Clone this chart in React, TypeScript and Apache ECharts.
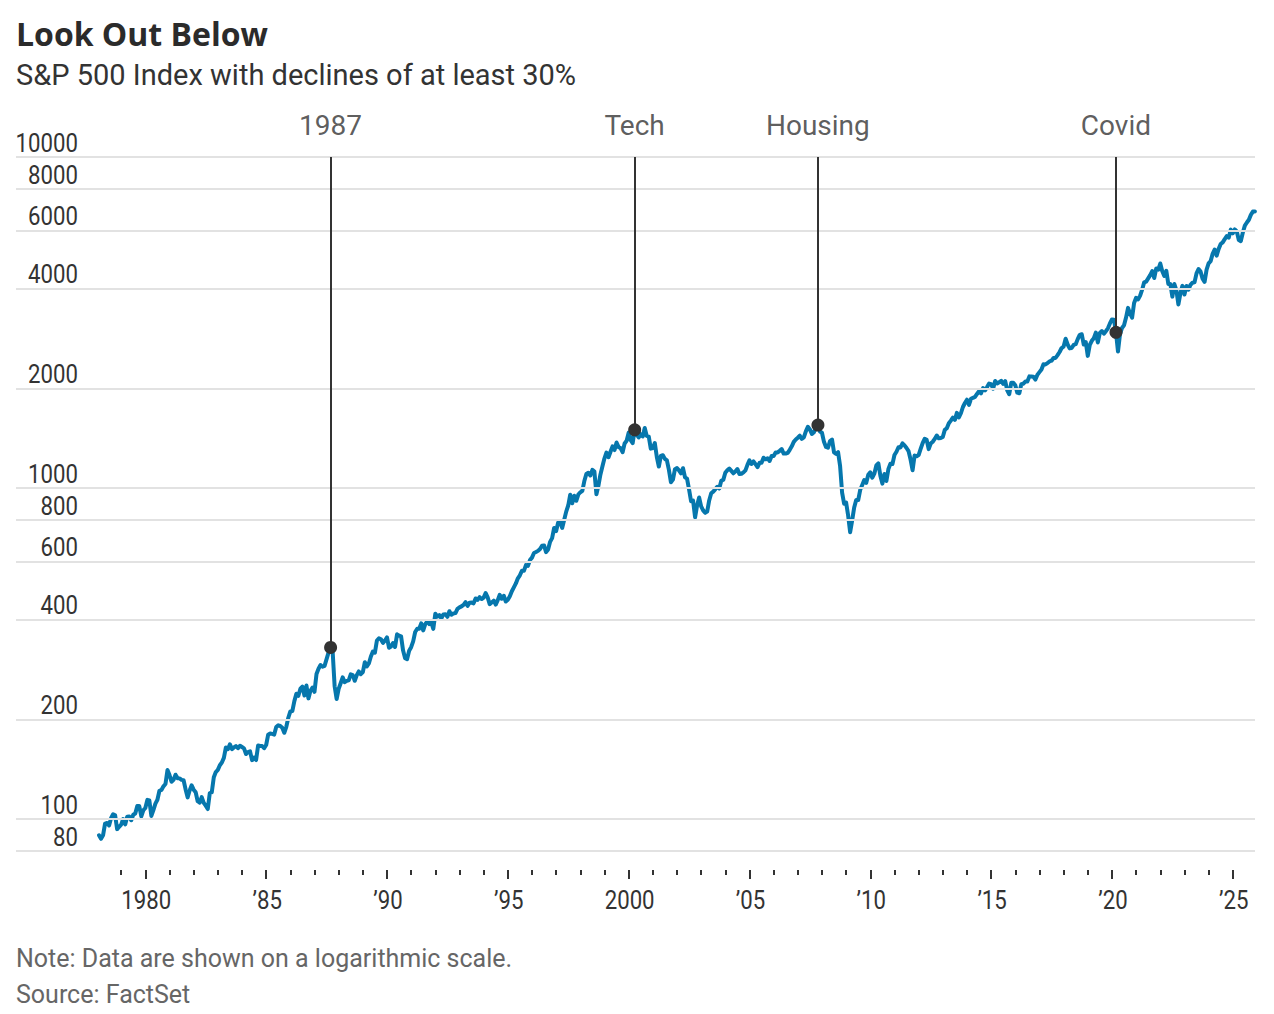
import React, { useEffect, useRef } from 'react';
import * as echarts from 'echarts';

// Monthly closes of the S&P 500 (month-end), starting January 1978
const START_YEAR = 1978;

const CLOSE_1978_1989 = [
  89.25, 87.04, 89.21, 96.83, 97.24, 95.53, 100.68, 103.29, 102.54, 93.15, 94.7, 96.11,
  99.93, 96.28, 101.59, 101.76, 99.08, 102.91, 103.81, 109.32, 109.32, 101.82, 106.16, 107.94,
  114.16, 113.66, 102.09, 106.29, 111.24, 114.24, 121.67, 122.38, 125.46, 127.47, 140.52, 135.76,
  129.55, 131.27, 136.0, 132.81, 132.59, 131.21, 130.92, 122.79, 116.18, 121.89, 126.35, 122.55,
  120.4, 113.11, 111.96, 116.44, 111.88, 109.61, 107.09, 119.51, 120.42, 133.71, 138.54, 140.64,
  145.3, 148.06, 152.96, 164.42, 162.39, 168.11, 162.56, 164.4, 166.07, 163.55, 166.4, 164.93,
  163.41, 157.06, 159.18, 160.05, 150.55, 153.18, 150.66, 166.68, 166.1, 166.09, 163.58, 167.24,
  179.63, 181.18, 180.66, 179.83, 189.55, 191.85, 190.92, 188.63, 182.08, 189.82, 202.17, 211.28,
  211.78, 226.92, 238.9, 235.52, 247.35, 250.84, 236.12, 252.93, 231.32, 243.98, 249.22, 242.17,
  274.08, 284.2, 291.7, 288.36, 290.1, 304.0, 318.66, 329.8, 321.83, 251.79, 230.3, 247.08,
  257.07, 267.82, 258.89, 261.33, 262.16, 273.5, 272.02, 261.52, 271.91, 278.97, 273.7, 277.72,
  297.47, 288.86, 294.87, 309.64, 320.52, 317.98, 346.08, 351.45, 349.15, 340.36, 345.99, 353.4,
];

const CLOSE_1990_1999 = [
  329.08, 331.89, 339.94, 330.8, 361.23, 358.02, 356.15, 322.56, 306.05, 304.0, 322.22, 330.22,
  343.93, 367.07, 375.22, 375.35, 389.83, 371.16, 387.81, 395.43, 387.86, 392.46, 375.22, 417.09,
  408.79, 412.7, 403.69, 414.95, 415.35, 408.14, 424.21, 414.03, 417.8, 418.68, 431.35, 435.71,
  438.78, 443.38, 451.67, 440.19, 450.19, 450.53, 448.13, 463.56, 458.93, 467.83, 461.79, 466.45,
  481.61, 467.14, 445.77, 450.91, 456.5, 444.27, 458.26, 475.49, 462.69, 472.35, 453.69, 459.27,
  470.42, 487.39, 500.71, 514.71, 533.4, 544.75, 562.06, 561.88, 584.41, 581.5, 605.37, 615.93,
  636.02, 640.43, 645.5, 654.17, 669.12, 670.63, 639.95, 651.99, 687.31, 705.27, 757.02, 740.74,
  786.16, 790.82, 757.12, 801.34, 848.28, 885.14, 954.29, 899.47, 947.28, 914.62, 955.4, 970.43,
  980.28, 1049.34, 1101.75, 1111.75, 1090.82, 1133.84, 1120.67, 957.28, 1017.01, 1098.67, 1163.63, 1229.23,
  1279.64, 1238.33, 1286.37, 1335.18, 1301.84, 1372.71, 1328.72, 1320.41, 1282.71, 1362.93, 1388.91, 1469.25,
];

const CLOSE_2000_2009 = [
  1394.46, 1366.42, 1498.58, 1452.43, 1420.6, 1454.6, 1430.83, 1517.68, 1436.51, 1429.4, 1314.95, 1320.28,
  1366.01, 1239.94, 1160.33, 1249.46, 1255.82, 1224.42, 1211.23, 1133.58, 1040.94, 1059.78, 1139.45, 1148.08,
  1130.2, 1106.73, 1147.39, 1076.92, 1067.14, 989.82, 911.62, 916.07, 815.28, 885.76, 936.31, 879.82,
  855.7, 841.15, 848.18, 916.92, 963.59, 974.5, 990.31, 1008.01, 995.97, 1050.71, 1058.2, 1111.92,
  1131.13, 1144.94, 1126.21, 1107.3, 1120.68, 1140.84, 1101.72, 1104.24, 1114.58, 1130.2, 1173.82, 1211.92,
  1181.27, 1203.6, 1180.59, 1156.85, 1191.5, 1191.33, 1234.18, 1220.33, 1228.81, 1207.01, 1249.48, 1248.29,
  1280.08, 1280.66, 1294.83, 1310.61, 1270.09, 1270.2, 1276.66, 1303.82, 1335.85, 1377.94, 1400.63, 1418.3,
  1438.24, 1406.82, 1420.86, 1482.37, 1530.62, 1503.35, 1455.27, 1473.99, 1526.75, 1549.38, 1481.14, 1468.36,
  1378.55, 1330.63, 1322.7, 1385.59, 1400.38, 1280.0, 1267.38, 1282.83, 1166.36, 968.75, 896.24, 903.25,
  825.88, 735.09, 797.87, 872.81, 919.14, 919.32, 987.48, 1020.62, 1057.08, 1036.19, 1095.63, 1115.1,
];

const CLOSE_2010_2019 = [
  1073.87, 1104.49, 1169.43, 1186.69, 1089.41, 1030.71, 1101.6, 1049.33, 1141.2, 1183.26, 1180.55, 1257.64,
  1286.12, 1327.22, 1325.83, 1363.61, 1345.2, 1320.64, 1292.28, 1218.89, 1131.42, 1253.3, 1246.96, 1257.6,
  1312.41, 1365.68, 1408.47, 1397.91, 1310.33, 1362.16, 1379.32, 1406.58, 1440.67, 1412.16, 1416.18, 1426.19,
  1498.11, 1514.68, 1569.19, 1597.57, 1630.74, 1606.28, 1685.73, 1632.97, 1681.55, 1756.54, 1805.81, 1848.36,
  1782.59, 1859.45, 1872.34, 1883.95, 1923.57, 1960.23, 1930.67, 2003.37, 1972.29, 2018.05, 2067.56, 2058.9,
  1994.99, 2104.5, 2067.89, 2085.51, 2107.39, 2063.11, 2103.84, 1972.18, 1920.03, 2079.36, 2080.41, 2043.94,
  1940.24, 1932.23, 2059.74, 2065.3, 2096.95, 2098.86, 2173.6, 2170.95, 2168.27, 2126.15, 2198.81, 2238.83,
  2278.87, 2363.64, 2362.72, 2384.2, 2411.8, 2423.41, 2470.3, 2471.65, 2519.36, 2575.26, 2647.58, 2673.61,
  2823.81, 2713.83, 2640.87, 2648.05, 2705.27, 2718.37, 2816.29, 2901.52, 2913.98, 2711.74, 2760.17, 2506.85,
  2704.1, 2784.49, 2834.4, 2945.83, 2752.06, 2941.76, 2980.38, 2926.46, 2976.74, 3037.56, 3140.98, 3230.78,
];

const CLOSE_2020_2025 = [
  3225.52, 2954.22, 2584.59, 2912.43, 3044.31, 3100.29, 3271.12, 3500.31, 3363.0, 3269.96, 3621.63, 3756.07,
  3714.24, 3811.15, 3972.89, 4181.17, 4204.11, 4297.5, 4395.26, 4522.68, 4307.54, 4605.38, 4567.0, 4766.18,
  4515.55, 4373.94, 4530.41, 4131.93, 4132.15, 3785.38, 4130.29, 3955.0, 3585.62, 3871.98, 4080.11, 3839.5,
  4076.6, 3970.15, 4109.31, 4169.48, 4179.83, 4450.38, 4588.96, 4507.66, 4288.05, 4193.8, 4567.8, 4769.83,
  4845.65, 5096.27, 5254.35, 5035.69, 5277.51, 5460.48, 5522.3, 5648.4, 5762.48, 5705.45, 6032.38, 5881.63,
  6040.53, 5954.5, 5611.85, 5569.06, 5911.69, 6204.95, 6339.39, 6460.26, 6688.46, 6840.2, 6849.09,
];

// Decline annotations (peak month before each decline of 30%+)
const EVENT_LABELS = ['1987', 'Tech', 'Housing', 'Covid'];
const EVENT_DATES = [1987 + 8 / 12, 2000 + 3 / 12, 2007 + 10 / 12, 2020 + 2 / 12];
const EVENT_VALUES = [329.8, 1498.58, 1549.38, 2954.22];

// Axes
const Y_TICKS = [80, 100, 200, 400, 600, 800, 1000, 2000, 4000, 6000, 8000, 10000];
const MAJOR_YEARS = [1980, 1985, 1990, 1995, 2000, 2005, 2010, 2015, 2020, 2025];
const MAJOR_LABELS = ['1980', '\u201985', '\u201990', '\u201995', '2000', '\u201905', '\u201910', '\u201915', '\u201920', '\u201925'];
const FIRST_TICK_YEAR = 1979;
const LAST_TICK_YEAR = 2025;

const TITLE = 'Look Out Below';
const SUBTITLE = 'S&P 500 Index with declines of at least 30%';
const NOTE = 'Note: Data are shown on a logarithmic scale.';
const SOURCE = 'Source: FactSet';

export default function App() {
  const ref = useRef<HTMLDivElement>(null);

  useEffect(() => {
    if (!ref.current) return;
    const chart = echarts.init(ref.current, null, { renderer: 'svg' });

    const closes = [
      ...CLOSE_1978_1989,
      ...CLOSE_1990_1999,
      ...CLOSE_2000_2009,
      ...CLOSE_2010_2019,
      ...CLOSE_2020_2025,
    ];
    const lineData = closes.map((v, i) => [START_YEAR + (i + 1) / 12, v]);
    const minorYears: number[] = [];
    for (let y = FIRST_TICK_YEAR; y <= LAST_TICK_YEAR; y++) minorYears.push(y);

    const X_MIN = START_YEAR;
    const X_MAX = 2025.92;
    const textFont = 'Roboto, "Noto Sans", sans-serif';
    const dark = '#333333';
    const tickStyle = { color: dark, width: 2 };
    const NARROW = 0.855;

    const baseGraphic: any[] = [
      {
        type: 'text',
        x: 16,
        y: 33,
        style: { text: TITLE, font: 'bold 32px "Open Sans", Roboto, sans-serif', fill: '#2b2b2b', align: 'left', verticalAlign: 'middle' },
      },
      {
        type: 'text',
        x: 16,
        y: 75,
        style: { text: SUBTITLE, font: `29px ${textFont}`, fill: dark, align: 'left', verticalAlign: 'middle' },
      },
      {
        type: 'text',
        x: 16,
        y: 958,
        style: { text: NOTE, font: `25px ${textFont}`, fill: '#666666', align: 'left', verticalAlign: 'middle' },
      },
      {
        type: 'text',
        x: 16,
        y: 994,
        style: { text: SOURCE, font: `25px ${textFont}`, fill: '#666666', align: 'left', verticalAlign: 'middle' },
      },
    ];

    const option: any = {
      animation: false,
      backgroundColor: '#ffffff',
      grid: [
        { left: 16, right: 19, top: 157, bottom: 163, outerBoundsMode: 'none' },
        { left: 97, right: 19, top: 157, bottom: 163, outerBoundsMode: 'none' },
      ],
      xAxis: [
        { gridIndex: 0, type: 'value', min: 0, max: 1, show: false },
        {
          gridIndex: 1,
          type: 'value',
          min: X_MIN,
          max: X_MAX,
          position: 'bottom',
          offset: 19,
          axisLine: { show: false },
          splitLine: { show: false },
          axisTick: { show: true, customValues: minorYears, length: 5, lineStyle: tickStyle },
          axisLabel: { show: false },
        },
        {
          gridIndex: 1,
          type: 'value',
          min: X_MIN,
          max: X_MAX,
          position: 'bottom',
          offset: 19,
          axisLine: { show: false },
          splitLine: { show: false },
          axisTick: { show: true, customValues: MAJOR_YEARS, length: 9, lineStyle: tickStyle },
          axisLabel: { show: false },
        },
      ],
      yAxis: [
        { gridIndex: 0, type: 'log', logBase: 10, min: 80, max: 10000, show: false },
        { gridIndex: 1, type: 'log', logBase: 10, min: 80, max: 10000, show: false },
      ],
      graphic: baseGraphic,
      series: [
        {
          name: 'gridlines',
          type: 'scatter',
          xAxisIndex: 0,
          yAxisIndex: 0,
          clip: false,
          silent: true,
          symbolSize: 0.1,
          itemStyle: { color: 'rgba(0,0,0,0)' },
          data: Y_TICKS.map((v) => [0, v]),
          markLine: {
            silent: true,
            symbol: ['none', 'none'],
            label: { show: false },
            lineStyle: { color: '#e2e2e2', width: 2, type: 'solid' },
            emphasis: { disabled: true },
            data: Y_TICKS.map((v) => ({ yAxis: v })),
          },
          z: 1,
        },
        {
          name: 'S&P 500',
          type: 'line',
          xAxisIndex: 1,
          yAxisIndex: 1,
          showSymbol: false,
          symbol: 'none',
          silent: true,
          data: lineData,
          lineStyle: { color: '#0677ad', width: 4, join: 'round', cap: 'round' },
          z: 3,
        },
        {
          name: 'events',
          type: 'scatter',
          xAxisIndex: 1,
          yAxisIndex: 1,
          clip: false,
          silent: true,
          symbolSize: 13,
          itemStyle: { color: dark, opacity: 1 },
          data: EVENT_DATES.map((d, i) => [d, EVENT_VALUES[i]]),
          markLine: {
            silent: true,
            symbol: ['none', 'none'],
            label: { show: false },
            lineStyle: { color: dark, width: 2, type: 'solid' },
            emphasis: { disabled: true },
            data: EVENT_DATES.map((d, i) => [{ coord: [d, 10000] }, { coord: [d, EVENT_VALUES[i]] }]),
          },
          z: 5,
        },
        {
          name: 'event labels',
          type: 'scatter',
          xAxisIndex: 1,
          yAxisIndex: 1,
          clip: false,
          silent: true,
          symbolSize: 0.1,
          itemStyle: { color: 'rgba(0,0,0,0)' },
          data: EVENT_DATES.map((d) => [d, 10000]),
          label: {
            show: true,
            formatter: (p: any) => EVENT_LABELS[p.dataIndex],
            position: [0, -31],
            align: 'center',
            verticalAlign: 'middle',
            fontFamily: textFont,
            fontSize: 28,
            color: dark,
          },
          z: 6,
        },
      ],
    };

    chart.setOption(option);

    // Axis labels in a condensed style, placed through the chart's own scales
    const yLabels = Y_TICKS.map((v) => {
      const p = chart.convertToPixel({ xAxisIndex: 0, yAxisIndex: 0 }, [0, v]) as number[];
      return {
        type: 'text',
        x: 78,
        y: p[1] - 14,
        scaleX: NARROW,
        silent: true,
        style: { text: String(v), font: `26px ${textFont}`, fill: dark, align: 'right', verticalAlign: 'middle' },
      };
    });
    const xLabels = MAJOR_YEARS.map((yr, i) => {
      const p = chart.convertToPixel({ xAxisIndex: 1, yAxisIndex: 1 }, [yr, 80]) as number[];
      return {
        type: 'text',
        x: p[0] + 1,
        y: 900,
        scaleX: NARROW,
        silent: true,
        style: { text: MAJOR_LABELS[i], font: `26px ${textFont}`, fill: dark, align: 'center', verticalAlign: 'middle' },
      };
    });
    chart.setOption({ graphic: [...baseGraphic, ...yLabels, ...xLabels] });

    return () => chart.dispose();
  }, []);

  return (
    <div
      ref={ref}
      style={{ position: 'absolute', left: 0, top: 0, width: 1274, height: 1014, background: '#fff' }}
    />
  );
}
